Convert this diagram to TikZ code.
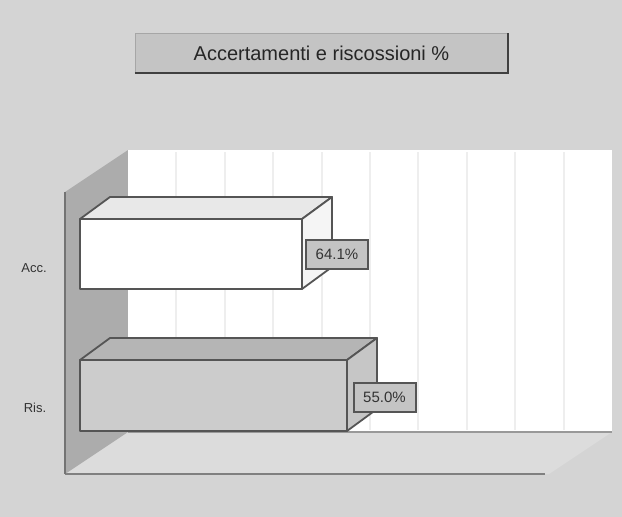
\documentclass[tikz,border=0pt]{standalone}
\usepackage{fontspec}
\setmainfont{Liberation Sans}
\usepackage{tikz}
\definecolor{bggray}{RGB}{212,212,212}
\definecolor{wallgray}{RGB}{172,172,172}
\definecolor{floorgray}{RGB}{220,220,220}
\definecolor{edgegray}{RGB}{85,85,85}
\definecolor{gridgray}{RGB}{238,238,238}
\definecolor{boxgray}{RGB}{196,196,196}
% bar: top y, bottom y, right x, front fill, top fill, side fill
\def\addbar#1#2#3#4#5#6{%
  \filldraw[barline, fill=#5] (80,#1) -- (#3,#1) -- (#3+30,#1-22) -- (110,#1-22) -- cycle;
  \filldraw[barline, fill=#6] (#3,#1) -- (#3+30,#1-22) -- (#3+30,#2-22) -- (#3,#2) -- cycle;
  \filldraw[barline, fill=#4] (80,#1) rectangle (#3,#2);}

\begin{document}
\begin{tikzpicture}[x=1pt, y=-1pt,
        barline/.style={draw=edgegray, line width=1.8pt, line join=round},
        valbox/.style={draw=edgegray, line width=2pt, fill=boxgray, inner sep=1pt,
                       minimum width=62pt, minimum height=29pt, text=black!80,
                       font=\fontsize{15}{17}\selectfont},
        catlabel/.style={font=\fontsize{13}{15}\selectfont, text=black!80}]
    \useasboundingbox (0,0) rectangle (622,517);
    \fill[bggray] (0,0) rectangle (622,517);

    % title box
    \node[draw=gray!70, fill=boxgray, minimum width=373pt, minimum height=40pt,
          font=\fontsize{20}{22}\selectfont, text=black!85] (title) at (321.5,53)
          {Accertamenti e riscossioni \%};
    \draw[black!75, line width=2.5pt] (title.south west) -- (title.south east) -- (title.north east);

    % walls and floor
    \fill[floorgray] (65,474) -- (128,432) -- (612,432) -- (549,474) -- cycle;
    \draw[gray, line width=1.5pt] (65,474) -- (545,474);
    \fill[wallgray] (65,192) -- (128,150) -- (128,432) -- (65,474) -- cycle;
    \draw[gray!90!black, line width=1.5pt] (65,192) -- (65,474);
    \fill[white] (128,150) rectangle (612,432);
    \foreach \k in {1,...,9}
        \draw[gridgray, line width=2pt] (128+48.4*\k,152) -- (128+48.4*\k,430);
    \draw[gray!80, line width=1.5pt] (128,432) -- (612,432);

    % bars
    \addbar{219}{289}{302}{white}{gray!18}{gray!8}
    \addbar{360}{431}{347}{gray!40}{gray!58}{gray!45}

    % labels
    \node[catlabel] (acc) at (34,268) {Acc.};
    \node[catlabel] (ris) at (35,408) {Ris.};
    \node[valbox] (accval) at (337,254) {64.1\%};
    \node[valbox] (risval) at (384.5,397) {55.0\%};
\end{tikzpicture}
\end{document}
